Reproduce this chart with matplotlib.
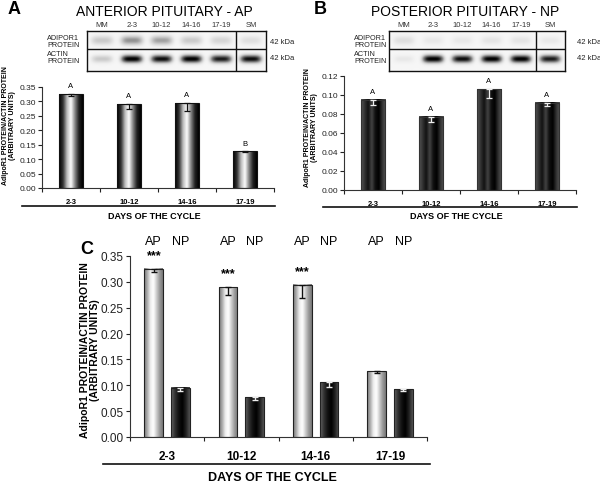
import numpy as np
import matplotlib.pyplot as plt
from matplotlib import transforms
from matplotlib.colors import LinearSegmentedColormap
from matplotlib.lines import Line2D
from matplotlib.ticker import FormatStrFormatter

plt.rcParams['font.family'] = ['Liberation Sans', 'DejaVu Sans']

days = ["2-3", "10-12", "14-16", "17-19"]
lanes = ["MM", "2-3", "10-12", "14-16", "17-19", "SM"]

# AdipoR1 / actin ratios
ap_ratio = [0.325, 0.290, 0.294, 0.127]
ap_err = [0.006, 0.016, 0.026, 0.003]
ap_groups = ["A", "A", "A", "B"]

np_ratio = [0.095, 0.077, 0.106, 0.092]
np_err = [0.006, 0.005, 0.009, 0.004]
np_groups = ["A", "A", "A", "A"]

stars = ["***", "***", "***", ""]

# darkness of the blot bands, one value per lane
ap_adipor1_band = [0.25, 0.45, 0.4, 0.25, 0.2, 0.15]
ap_actin_band = [0.25, 0.95, 0.9, 0.95, 0.85, 0.9]
np_adipor1_band = [0.15, 0.1, 0.1, 0.12, 0.12, 0.1]
np_actin_band = [0.1, 0.95, 0.9, 0.95, 0.95, 0.85]

W, H = 600, 485
fig = plt.figure(figsize=(6, 4.85), dpi=100)


def fx(x):
    return x / W


def fy(y):
    return 1 - y / H


def box(x0, y0, x1, y1):
    return fig.add_axes([fx(x0), fy(y1), (x1 - x0) / W, (y1 - y0) / H])


cm_a = LinearSegmentedColormap.from_list("a", ["#000", "#333", "#bbb", "#fff", "#888", "#222", "#000"])
cm_b = LinearSegmentedColormap.from_list("b", ["#555", "#333", "#111", "#444", "#111", "#000", "#333", "#555"])
cm_ap = LinearSegmentedColormap.from_list("ap", ["#777", "#aaa", "#eee", "#fff", "#ccc", "#999", "#777"])
cm_np = LinearSegmentedColormap.from_list("np", ["#666", "#333", "#111", "#000", "#222", "#555"])


def gradient_bars(ax, x, heights, width, cmap, edge):
    grad = np.linspace(0, 1, 128)[None, :]
    bars = ax.bar(x, heights, width, facecolor='none', edgecolor=edge,
                  linewidth=0.8, zorder=3)
    for b in bars:
        ax.imshow(grad, cmap=cmap, aspect='auto', interpolation='bicubic',
                  extent=(b.get_x(), b.get_x() + b.get_width(), 0, b.get_height()),
                  zorder=2)
    return bars


def style_axis(ax, ymax, step, fs):
    ax.set_xlim(0, 4)
    ax.set_ylim(0, ymax)
    ax.set_yticks(np.arange(0, ymax + step / 2, step))
    ax.yaxis.set_major_formatter(FormatStrFormatter('%.2f'))
    ax.set_xticks(range(5))
    ax.set_xticklabels([])
    ax.tick_params(axis='both', direction='out', length=3, width=0.8,
                   labelsize=fs, pad=1.5, colors='#222')
    for s in ['top', 'right']:
        ax.spines[s].set_visible(False)
    for s in ['left', 'bottom']:
        ax.spines[s].set_linewidth(0.8)
        ax.spines[s].set_color('#333')


def days_axis(ax, ylab, yline, ytitle, x0, x1, fs, tfs):
    tr = transforms.blended_transform_factory(ax.transData, fig.transFigure)
    for i, d in enumerate(days):
        ax.text(i + 0.5, fy(ylab), d, transform=tr, ha='center', va='center',
                fontsize=fs, fontweight='bold')
    fig.add_artist(Line2D([fx(x0), fx(x1)], [fy(yline), fy(yline)], color='#111', lw=1.2))
    fig.text((fx(x0) + fx(x1)) / 2 + 0.01, fy(ytitle), "DAYS OF THE CYCLE",
             ha='center', va='center', fontsize=tfs, fontweight='bold')


def blot(x0, y0, x1, y1, top_band, bottom_band):
    ax = box(x0, y0, x1, y1)
    xs = np.linspace(0, 6, 360)
    ys = np.linspace(0, 1, 80)
    X, Y = np.meshgrid(xs, ys)
    img = np.full_like(X, 0.07)
    for i in range(len(lanes)):
        dx = X - i - 0.5
        img += top_band[i] * np.exp(-(dx / 0.38) ** 4 - ((Y - 0.77) / 0.12) ** 2)
        img += bottom_band[i] * np.exp(-(dx / 0.36) ** 4 - ((Y - 0.3) / 0.1) ** 2)
    ax.imshow(np.clip(img, 0, 1), cmap='Greys', vmin=0, vmax=1, origin='lower',
              aspect='auto', extent=(0, 6, 0, 1), interpolation='bilinear')
    ax.axhline(0.55, color='#111', lw=1)
    ax.axvline(5, color='#111', lw=1)
    ax.set_xticks([])
    ax.set_yticks([])
    for s in ax.spines.values():
        s.set_linewidth(1)
        s.set_color('#111')
    tr = transforms.blended_transform_factory(ax.transData, ax.transAxes)
    for i, lane in enumerate(lanes):
        ax.text(i + 0.5, 1.17, lane, transform=tr, ha='center', va='center',
                fontsize=5.5, color='#333')
    return ax


def ylabel(x, y, fs):
    fig.text(fx(x), fy(y), "AdipoR1 PROTEIN/ACTIN PROTEIN\n(ARBITRARY UNITS)",
             rotation=90, ha='center', va='center', fontsize=fs,
             fontweight='bold', linespacing=1.1, multialignment='center')


x = np.arange(len(days)) + 0.5

# ---- Panel A ----
fig.text(fx(14), fy(10), "A", fontsize=13, fontweight='bold', ha='center', va='center')
fig.text(fx(164), fy(12), "ANTERIOR PITUITARY - AP", fontsize=10, ha='center', va='center')
blot(87, 32, 266, 72, ap_adipor1_band, ap_actin_band)
fig.text(fx(47), fy(42), "ADIPOR1\nPROTEIN", fontsize=5.2, va='center', linespacing=1.0, color='#222')
fig.text(fx(47), fy(58), "ACTIN\nPROTEIN", fontsize=5.2, va='center', linespacing=1.0, color='#222')
fig.text(fx(270), fy(42), "42 kDa", fontsize=5.5, va='center', color='#222')
fig.text(fx(270), fy(58), "42 kDa", fontsize=5.5, va='center', color='#222')

axA = box(42, 88, 274, 189)
gradient_bars(axA, x, ap_ratio, 0.4, cm_a, '#111')
axA.errorbar(x, ap_ratio, yerr=[ap_err, [0] * 4], fmt='none', ecolor='#111',
             elinewidth=0.9, capsize=2, capthick=0.9, zorder=4)
for xi, v, g in zip(x, ap_ratio, ap_groups):
    axA.annotate(g, (xi, v), xytext=(0, 6), textcoords='offset points',
                 ha='center', va='center', fontsize=5.5)
style_axis(axA, 0.35, 0.05, 6)
ylabel(9, 126, 5)
days_axis(axA, 203, 207, 217, 22, 275, 5.5, 6.5)

# ---- Panel B ----
fig.text(fx(320), fy(10), "B", fontsize=13, fontweight='bold', ha='center', va='center')
fig.text(fx(465), fy(12), "POSTERIOR PITUITARY - NP", fontsize=10, ha='center', va='center')
blot(389, 32, 565, 72, np_adipor1_band, np_actin_band)
fig.text(fx(354), fy(42), "ADIPOR1\nPROTEIN", fontsize=5.2, va='center', linespacing=1.0, color='#222')
fig.text(fx(354), fy(58), "ACTIN\nPROTEIN", fontsize=5.2, va='center', linespacing=1.0, color='#222')
fig.text(fx(577), fy(42), "42 kDa", fontsize=5.5, va='center', color='#222')
fig.text(fx(577), fy(58), "42 kDa", fontsize=5.5, va='center', color='#222')

axB = box(344, 77, 576, 191)
gradient_bars(axB, x, np_ratio, 0.43, cm_b, '#333')
axB.errorbar(x, np_ratio, yerr=[np_err, [0] * 4], fmt='none', ecolor='#eee',
             elinewidth=0.9, capsize=2, capthick=0.9, zorder=4)
for xi, v, g in zip(x, np_ratio, np_groups):
    axB.annotate(g, (xi, v), xytext=(0, 6), textcoords='offset points',
                 ha='center', va='center', fontsize=5.5)
style_axis(axB, 0.12, 0.02, 6)
ylabel(311, 128, 5)
days_axis(axB, 205, 208, 217, 323, 577, 5.5, 6.5)

# ---- Panel C ----
fig.text(fx(87), fy(250), "C", fontsize=13, fontweight='bold', ha='center', va='center')
axC = box(130, 257, 427, 438)
off, bw = 0.18, 0.25
gradient_bars(axC, x - off, ap_ratio, bw, cm_ap, '#222')
gradient_bars(axC, x + off, np_ratio, bw, cm_np, '#222')
axC.errorbar(x - off, ap_ratio, yerr=[ap_err, [0] * 4], fmt='none', ecolor='#111',
             elinewidth=1, capsize=2.5, capthick=1, zorder=4)
axC.errorbar(x + off, np_ratio, yerr=[np_err, [0] * 4], fmt='none', ecolor='#eee',
             elinewidth=1, capsize=2, capthick=1, zorder=4)
for xi, v, s in zip(x - off, ap_ratio, stars):
    if s:
        axC.annotate(s, (xi, v), xytext=(0, 10), textcoords='offset points',
                     ha='center', va='center', fontsize=9, fontweight='bold')
trC = transforms.blended_transform_factory(axC.transData, fig.transFigure)
for xi in x:
    axC.text(xi - off, fy(242), "AP", transform=trC, ha='center', va='center', fontsize=9)
    axC.text(xi + off, fy(242), "NP", transform=trC, ha='center', va='center', fontsize=9)
style_axis(axC, 0.35, 0.05, 8.5)
ylabel(90, 350, 7.5)
days_axis(axC, 457, 465, 478, 103, 430, 8.5, 9)

fig.savefig("out.png", dpi=100)
